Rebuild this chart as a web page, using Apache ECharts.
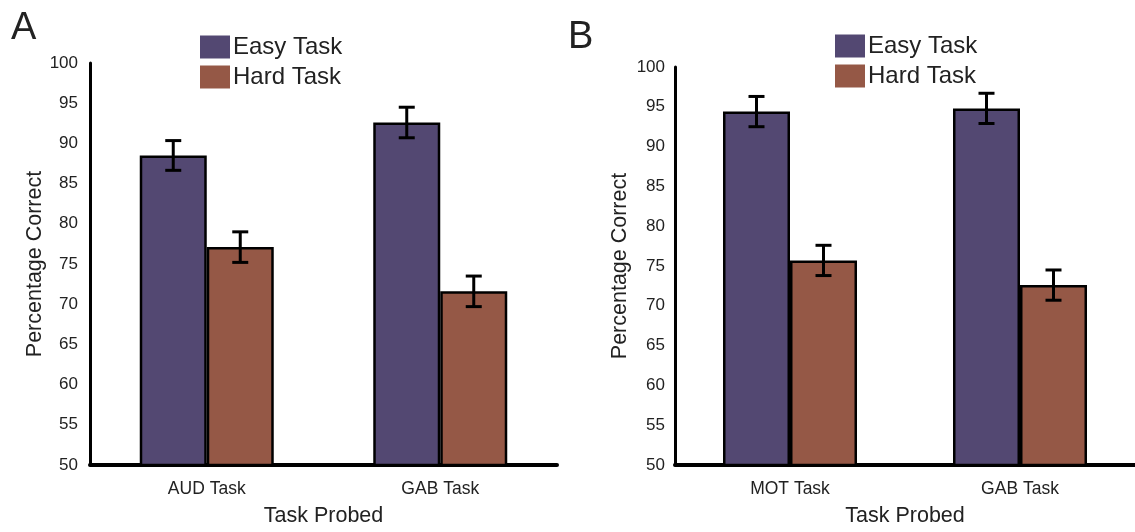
<!DOCTYPE html>
<html>
<head>
<meta charset="utf-8">
<script src="https://cdn.jsdelivr.net/npm/echarts@6/dist/echarts.min.js"></script>
<style>
  html, body { margin: 0; padding: 0; background: #fff; }
  #chart { width: 1135px; height: 532px; }
</style>
</head>
<body>
<div id="chart"></div>
<script>
// panel A
const categoriesA = ['AUD Task', 'GAB Task'];
const easyA = [88.5, 92.6];
const easyErrA = [1.85, 1.9];
const hardA = [77.1, 71.6];
const hardErrA = [1.9, 1.9];
// panel B
const categoriesB = ['MOT Task', 'GAB Task'];
const easyB = [94.4, 94.8];
const easyErrB = [1.9, 1.9];
const hardB = [75.7, 72.6];
const hardErrB = [1.9, 1.9];
const yTicks = [50, 55, 60, 65, 70, 75, 80, 85, 90, 95, 100];

const font = 'Liberation Sans, Arial, Helvetica, sans-serif';
const easyColor = '#534872';
const hardColor = '#955846';
const barW = 67;

let chart = echarts.init(document.getElementById('chart'));

function errSeries(vals, errs, shift, idx) {
  return {
    type: 'custom',
    xAxisIndex: idx,
    yAxisIndex: idx,
    z: 10,
    silent: true,
    data: vals.map((v, i) => [i, v, errs[i]]),
    renderItem: function (params, api) {
      let hi = api.coord([api.value(0), api.value(1) + api.value(2)]);
      let lo = api.coord([api.value(0), api.value(1) - api.value(2)]);
      let x = hi[0] + shift;
      let st = { stroke: '#000', lineWidth: 3 };
      return {
        type: 'group',
        children: [
          { type: 'line', shape: { x1: x, y1: hi[1], x2: x, y2: lo[1] }, style: st },
          { type: 'line', shape: { x1: x - 8, y1: hi[1], x2: x + 8, y2: hi[1] }, style: st },
          { type: 'line', shape: { x1: x - 8, y1: lo[1], x2: x + 8, y2: lo[1] }, style: st }
        ]
      };
    }
  };
}

function barSeries(name, vals, color, idx) {
  return {
    name: name,
    type: 'bar',
    xAxisIndex: idx,
    yAxisIndex: idx,
    data: vals,
    barWidth: barW,
    barGap: '0%',
    itemStyle: { color: color, borderColor: '#000', borderWidth: 2.5 }
  };
}

function xAxisOf(cats, idx) {
  return {
    type: 'category',
    gridIndex: idx,
    data: cats,
    axisLine: { lineStyle: { color: '#000', width: 4 } },
    axisTick: { show: false },
    axisLabel: { color: '#222', fontSize: 17.5, fontFamily: font, margin: 15 },
    name: 'Task Probed',
    nameLocation: 'middle',
    nameGap: 40,
    nameTextStyle: { color: '#222', fontSize: 21.5, fontFamily: font }
  };
}

function yAxisOf(idx, margin, gap) {
  return {
    type: 'value',
    gridIndex: idx,
    min: yTicks[0],
    max: yTicks[yTicks.length - 1],
    interval: 5,
    splitLine: { show: false },
    axisTick: { show: false },
    axisLine: { show: true, lineStyle: { color: '#000', width: 3 } },
    axisLabel: { color: '#222', fontSize: 17, fontFamily: font, margin: margin },
    name: 'Percentage Correct',
    nameLocation: 'middle',
    nameGap: gap,
    nameTextStyle: { color: '#222', fontSize: 21.5, fontFamily: font }
  };
}

function legendOf(left, top) {
  return {
    left: left,
    top: top,
    orient: 'vertical',
    icon: 'rect',
    itemWidth: 30,
    itemHeight: 23,
    itemGap: 6,
    padding: 0,
    selectedMode: false,
    itemStyle: { borderWidth: 0 },
    textStyle: { color: '#222', fontSize: 24, fontFamily: font, padding: [0, 0, 0, -2] },
    data: ['Easy Task', 'Hard Task']
  };
}

chart.setOption({
  animation: false,
  color: [easyColor, hardColor],
  title: [
    { text: 'A', left: 6, top: 5, textStyle: { fontSize: 38, fontWeight: 'normal', color: '#222', fontFamily: font } },
    { text: 'B', left: 563, top: 14, textStyle: { fontSize: 38, fontWeight: 'normal', color: '#222', fontFamily: font } }
  ],
  legend: [legendOf(200, 35), legendOf(835, 34)],
  grid: [
    { left: 90, right: 578, top: 63, bottom: 66 },
    { left: 675, right: -5, top: 67, bottom: 61 }
  ],
  xAxis: [xAxisOf(categoriesA, 0), xAxisOf(categoriesB, 1)],
  yAxis: [yAxisOf(0, 12, 43), yAxisOf(1, 10, 44)],
  series: [
    barSeries('Easy Task', easyA, easyColor, 0),
    barSeries('Hard Task', hardA, hardColor, 0),
    barSeries('Easy Task', easyB, easyColor, 1),
    barSeries('Hard Task', hardB, hardColor, 1),
    errSeries(easyA, easyErrA, -barW / 2, 0),
    errSeries(hardA, hardErrA, barW / 2, 0),
    errSeries(easyB, easyErrB, -barW / 2, 1),
    errSeries(hardB, hardErrB, barW / 2, 1)
  ]
});
</script>
</body>
</html>
